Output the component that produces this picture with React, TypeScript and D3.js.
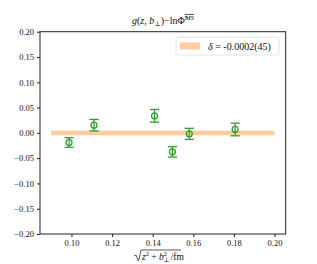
import * as d3 from "d3";
import { useEffect, useRef } from "react";

const xVals = [0.0988, 0.1111, 0.1409, 0.1497, 0.158, 0.1806];
const yVals = [-0.019, 0.0152, 0.0337, -0.0376, -0.002, 0.0067];
const yErrs = [0.0095, 0.0113, 0.0125, 0.0102, 0.011, 0.0125];
const bandRange = [0.09, 0.2];
const delta = -0.0002;
const deltaErr = 0.0045;
const xTicks = [0.1, 0.12, 0.14, 0.16, 0.18, 0.2];
const yTicks = [-0.2, -0.15, -0.1, -0.05, 0, 0.05, 0.1, 0.15, 0.2];

export default function App() {
  const ref = useRef<SVGSVGElement>(null);

  useEffect(() => {
    document.body.style.margin = "0";
    const width = 317;
    const height = 264;
    const m = { left: 40, right: 31.3, top: 31.7, bottom: 30 };
    const font = "'Liberation Serif', 'DejaVu Serif', serif";

    d3.select(ref.current).selectAll("*").remove();
    const svg = d3.select(ref.current).attr("width", width).attr("height", height);

    const x = d3.scaleLinear().domain([0.0845, 0.2055]).range([m.left, width - m.right]);
    const y = d3.scaleLinear().domain([-0.2, 0.2]).range([height - m.bottom, m.top]);

    // band for delta
    svg.append("rect")
      .attr("x", x(bandRange[0]))
      .attr("width", x(bandRange[1]) - x(bandRange[0]))
      .attr("y", y(delta + deltaErr))
      .attr("height", y(delta - deltaErr) - y(delta + deltaErr))
      .attr("fill", "#ff7f0e")
      .attr("fill-opacity", 0.4);

    // error bars
    const green = "#2ca02c";
    const pts = xVals.map((v, i) => ({ x: v, y: yVals[i], e: yErrs[i] }));
    const g = svg.append("g").attr("stroke", green).attr("stroke-width", 1.3).attr("fill", "none");
    pts.forEach(p => {
      const cx = x(p.x);
      g.append("line").attr("x1", cx).attr("x2", cx).attr("y1", y(p.y - p.e)).attr("y2", y(p.y + p.e));
      [p.y - p.e, p.y + p.e].forEach(v => {
        g.append("line").attr("x1", cx - 4.6).attr("x2", cx + 4.6).attr("y1", y(v)).attr("y2", y(v));
      });
      g.append("circle").attr("cx", cx).attr("cy", y(p.y)).attr("r", 3);
    });

    // frame
    svg.append("rect")
      .attr("x", m.left).attr("y", m.top)
      .attr("width", width - m.left - m.right)
      .attr("height", height - m.top - m.bottom)
      .attr("fill", "none").attr("stroke", "#222").attr("stroke-width", 1);

    const fmt = (v: number) => d3.format(".2f")(v).replace("-", "\u2212");

    const xAxis = svg.append("g")
      .attr("transform", `translate(0,${height - m.bottom})`)
      .call(d3.axisBottom(x).tickValues(xTicks).tickSize(3).tickPadding(3).tickFormat(d => fmt(+d)));
    const yAxis = svg.append("g")
      .attr("transform", `translate(${m.left},0)`)
      .call(d3.axisLeft(y).tickValues(yTicks).tickSize(3).tickPadding(3).tickFormat(d => fmt(+d)));
    [xAxis, yAxis].forEach(a => {
      a.select(".domain").remove();
      a.selectAll("text").attr("font-family", font).attr("font-size", 8.5).attr("fill", "#111");
      a.selectAll("line").attr("stroke", "#222");
    });

    // title
    const title = svg.append("text")
      .attr("x", 163).attr("y", 24)
      .attr("text-anchor", "middle")
      .attr("font-family", font).attr("font-size", 10).attr("fill", "#111");
    title.append("tspan").attr("font-style", "italic").text("g");
    title.append("tspan").text("(");
    title.append("tspan").attr("font-style", "italic").text("z");
    title.append("tspan").text(", ");
    title.append("tspan").attr("font-style", "italic").text("b");
    title.append("tspan").attr("font-size", 7).attr("dy", 2).text("\u22A5");
    title.append("tspan").attr("dy", -2).text(")\u2212ln\u03A6\u0303");
    title.append("tspan").attr("font-size", 7).attr("font-style", "italic").attr("dy", -4)
      .attr("text-decoration", "overline").text("MS");

    // legend
    const lg = svg.append("g");
    lg.append("rect")
      .attr("x", 176).attr("y", 37).attr("width", 103).attr("height", 18).attr("rx", 2)
      .attr("fill", "white").attr("fill-opacity", 0.8).attr("stroke", "#ddd").attr("stroke-width", 0.8);
    lg.append("rect")
      .attr("x", 180).attr("y", 42.5).attr("width", 20).attr("height", 7)
      .attr("fill", "#ff7f0e").attr("fill-opacity", 0.4);
    const lt = lg.append("text")
      .attr("x", 208).attr("y", 49.5)
      .attr("font-family", font).attr("font-size", 10).attr("fill", "#111");
    lt.append("tspan").attr("font-style", "italic").text("\u03B4");
    lt.append("tspan").text(" = -0.0002(45)");

    // x label with radical
    const xl = svg.append("g");
    const lx = 140;
    const ly = 260;
    xl.append("path")
      .attr("d", `M${lx - 6},${ly - 4} L${lx - 4},${ly - 5} L${lx - 1.5},${ly + 1} L${lx + 1},${ly - 10} L${lx + 41},${ly - 10}`)
      .attr("fill", "none").attr("stroke", "#111").attr("stroke-width", 0.7);
    const xt = xl.append("text")
      .attr("x", lx + 2).attr("y", ly)
      .attr("font-family", font).attr("font-size", 9.5).attr("fill", "#111");
    xt.append("tspan").attr("font-style", "italic").text("z");
    xt.append("tspan").attr("font-size", 6.5).attr("dy", -4).text("2");
    xt.append("tspan").attr("dy", 4).text(" + ");
    xt.append("tspan").attr("font-style", "italic").text("b");
    xt.append("tspan").attr("font-size", 6.5).attr("dy", -4).text("2");
    xt.append("tspan").attr("font-size", 6.5).attr("dx", -3.5).attr("dy", 6).text("\u22A5");
    xt.append("tspan").attr("dy", -2).attr("dx", 1).text("/fm");
  }, []);

  return <svg ref={ref} style={{ display: "block" }} />;
}
